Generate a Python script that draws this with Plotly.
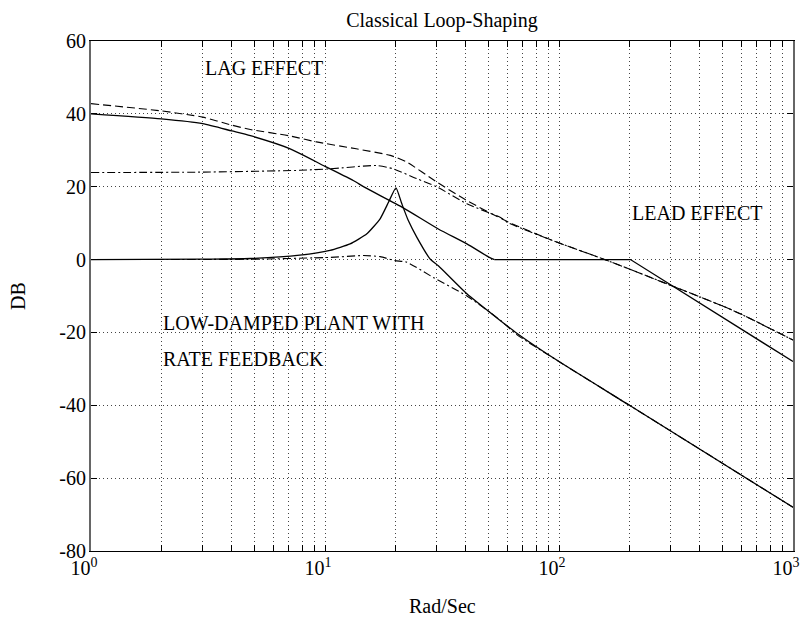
import math
import plotly.graph_objects as go

# Frequency (rad/s) and magnitude (dB) for each response curve
w_loop = [1, 2, 3, 4, 4.8, 7.1, 10, 13.2, 14.8, 21.6, 30.5, 40.4, 50.4, 53, 202, 1000]
db_loop = [40.0, 38.6, 37.3, 35.3, 34.0, 30.4, 25.6, 21.7, 19.8, 14.2, 8.4, 4.3, 0.6, 0.0, 0.0, -28.0]
LOOP_CORNER = 13  # index where the smooth roll-off meets the straight-line segments

w_plant = [1, 3, 4.8, 7.8, 10.5, 12.8, 15.1, 17.2, 18.7, 20.1, 21.3, 22.7, 24.7, 28.1,
           30.5, 40.4, 55, 66, 100, 200, 1000]
db_plant = [0.0, 0.1, 0.3, 1.2, 2.5, 4.3, 7.1, 11.2, 15.8, 19.7, 15.3, 10.7, 6.1, 0.2,
            -1.7, -9.4, -16.3, -20.2, -28.0, -40.0, -68.0]

w_lag_lead = [1, 2, 3, 4, 4.8, 7, 9.2, 13.6, 19, 22.3, 30, 40.4, 60.7, 91.6, 163, 290, 556, 1000]
db_lag_lead = [42.8, 40.8, 39.1, 36.9, 35.7, 34.0, 32.3, 30.4, 28.6, 26.8, 21.3, 16.2, 10.3,
               5.5, -0.4, -6.7, -14.0, -22.1]

w_lead = [1, 2.9, 7.8, 10.5, 16.6, 19.6, 24.7, 30, 40.4, 56, 60.7, 91.6, 163, 290, 556, 1000]
db_lead = [23.9, 24.0, 24.5, 24.9, 25.8, 24.9, 22.2, 20.0, 15.3, 11.6, 10.1, 5.5, -0.4, -6.7,
           -14.0, -22.1]

w_rate = [1, 4.8, 10.5, 14.6, 17.2, 19.9, 22.3, 29, 40.4, 56, 66, 100, 200, 1000]
db_rate = [0.0, 0.1, 0.6, 1.1, 0.8, -0.3, -0.7, -4.9, -10.0, -16.6, -20.6, -28.0, -40.0, -68.0]

# Axis ticks: labelled decades, unlabelled grid at 2..9 within each decade
x_major = [1, 10, 100, 1000]
x_major_text = ["10<sup>0</sup>", "10<sup>1</sup>", "10<sup>2</sup>", "10<sup>3</sup>"]
x_minor = [m * d for d in x_major[:-1] for m in range(2, 10)]
y_ticks = [60, 40, 20, 0, -20, -40, -60, -80]
y_ticktext = ["60", "40", "20", "0", "-20", "-40", "-60", "-80"]

FONT = "Liberation Serif, Times New Roman, serif"
DASHDOT = "8px,3px,2px,3px"
GRID_DASH = "1px,3px"

fig = go.Figure()
fig.add_trace(go.Scatter(x=w_lag_lead, y=db_lag_lead, mode="lines",
                         line=dict(color="black", width=1.1, dash="8px,4px",
                                   shape="spline", smoothing=0.6)))
fig.add_trace(go.Scatter(x=w_lead, y=db_lead, mode="lines",
                         line=dict(color="black", width=1.1, dash=DASHDOT,
                                   shape="spline", smoothing=0.6)))
fig.add_trace(go.Scatter(x=w_rate, y=db_rate, mode="lines",
                         line=dict(color="black", width=1.1, dash=DASHDOT,
                                   shape="spline", smoothing=0.6)))
fig.add_trace(go.Scatter(x=w_plant, y=db_plant, mode="lines",
                         line=dict(color="black", width=1.3,
                                   shape="spline", smoothing=0.5)))
# Compensated loop: smooth roll-off, then flat and straight asymptotic segments
fig.add_trace(go.Scatter(x=w_loop[:LOOP_CORNER + 1], y=db_loop[:LOOP_CORNER + 1], mode="lines",
                         line=dict(color="black", width=1.3, shape="spline", smoothing=0.6)))
fig.add_trace(go.Scatter(x=w_loop[LOOP_CORNER:], y=db_loop[LOOP_CORNER:], mode="lines",
                         line=dict(color="black", width=1.3)))

labels = [
    ("LAG EFFECT", 3.0, 52.5),
    ("LEAD EFFECT", 201, 12.8),
    ("LOW-DAMPED PLANT WITH", 2.0, -17.5),
    ("RATE FEEDBACK", 2.0, -27.3),
]
for text, wx, dby in labels:
    fig.add_annotation(x=math.log10(wx), y=dby, xref="x", yref="y", text=text,
                       showarrow=False, xanchor="left", yanchor="middle",
                       font=dict(family=FONT, size=20, color="black"))

fig.add_annotation(x=0.5, y=-0.108, xref="paper", yref="paper", text="Rad/Sec",
                   showarrow=False, xanchor="center", yanchor="middle",
                   font=dict(family=FONT, size=20, color="black"))
fig.add_annotation(x=-0.104, y=0.5, xref="paper", yref="paper", text="DB",
                   textangle=-90, showarrow=False, xanchor="center", yanchor="middle",
                   font=dict(family=FONT, size=20, color="black"))

fig.update_layout(
    width=802, height=617,
    margin=dict(l=91, r=9, t=41, b=66),
    paper_bgcolor="white", plot_bgcolor="white",
    showlegend=False,
    font=dict(family=FONT, size=20, color="black"),
    title=dict(text="Classical Loop-Shaping", x=0.5, xref="paper", xanchor="center",
               y=1 - 20 / 617, yref="container", yanchor="middle",
               font=dict(family=FONT, size=20, color="black")),
    xaxis=dict(type="log", range=[-1e-6, 3 + 1e-6], automargin=False,
               tickmode="array", tickvals=x_major, ticktext=x_major_text,
               ticklabeloverflow="allow", ticklabelshift=-7, ticklabelstandoff=-1,
               ticks="inside", ticklen=6, tickcolor="black", tickwidth=1,
               showline=True, linecolor="black", linewidth=1, mirror="ticks",
               showgrid=True, gridcolor="#444", gridwidth=1, griddash=GRID_DASH,
               minor=dict(tickmode="array", tickvals=x_minor, ticks="inside", ticklen=6,
                          tickcolor="black", tickwidth=1, showgrid=True,
                          gridcolor="#444", gridwidth=1, griddash=GRID_DASH),
               zeroline=False,
               tickfont=dict(family=FONT, size=20, color="black")),
    yaxis=dict(range=[-80, 60], automargin=False, tickvals=y_ticks, ticktext=y_ticktext,
               ticklabelstandoff=-1,
               ticks="inside", ticklen=6, tickcolor="black", tickwidth=1,
               showline=True, linecolor="#666", linewidth=2, mirror="ticks",
               showgrid=True, gridcolor="#444", gridwidth=1, griddash=GRID_DASH,
               zeroline=False,
               tickfont=dict(family=FONT, size=20, color="black")),
)

fig.write_html("out.html")
